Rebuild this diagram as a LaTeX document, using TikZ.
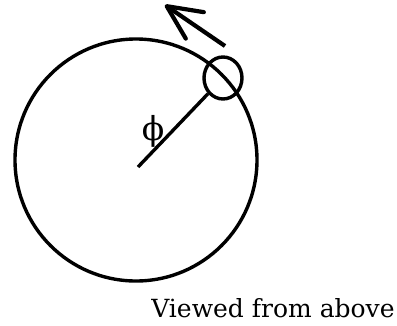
\documentclass[tikz,border=0pt]{standalone}
\usepackage{fontspec}
\setmainfont{DejaVu Serif}
\usetikzlibrary{arrows.meta, shapes.geometric}
\tikzset{
  every node/.style={inner sep=0pt}, % nodes hug their text
}

\begin{document}
\begin{tikzpicture}[x=1pt, y=-1pt, line width=3.4pt,
  wheel/.style = {draw, circle, minimum size=242pt},
  bead/.style = {draw, ellipse, minimum width=38pt, minimum height=42pt},
  txt/.style = {font=\fontsize{25}{30}\selectfont}]
  \useasboundingbox (0,0) rectangle (397,325);
  \node[wheel] (wheel) at (136,160) {};
  \node[bead] (bead) at (223,78) {};
  \coordinate (hub) at (138,167);
  \draw (hub) -- (bead);
  \node[txt, font=\fontsize{33}{36}\selectfont] (phi) at (153,131) {ϕ};
  % direction of motion
  \coordinate (tail) at (225,46);
  \coordinate (head) at (165,5);
  \draw[line width=4.2pt, -{Straight Barb[length=34pt, width=32pt, round]}] (tail) -- (head);
  \node[txt, anchor=base] (caption) at (273,317) {Viewed from above};
\end{tikzpicture}
\end{document}
